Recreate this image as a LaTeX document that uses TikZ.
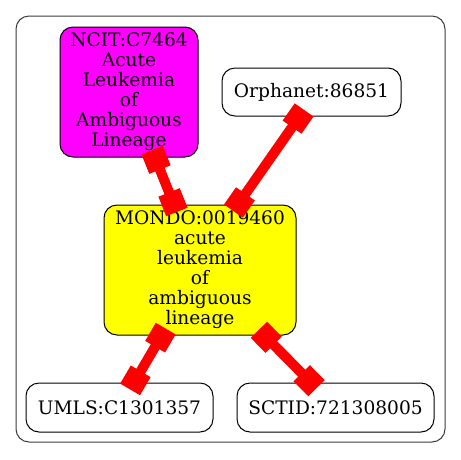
\documentclass[tikz,border=0pt]{standalone}
\usepackage{fontspec}
\setmainfont{DejaVu Serif}
\usetikzlibrary{arrows.meta,calc}
\definecolor{gvmagenta}{RGB}{255,0,255}
\definecolor{gvyellow}{RGB}{255,255,0}
\definecolor{gvred}{RGB}{255,0,0}
\definecolor{gvgray}{RGB}{60,60,60}
\begin{document}
\begin{tikzpicture}[x=1pt,y=-1pt,
  nd/.style={draw=black,line width=1pt,rounded corners=13pt,align=center,inner sep=0pt,
    font=\fontsize{18.6}{20}\selectfont},
  link/.style={draw=gvred,line width=10pt,
    {Square[length=21pt,width=23pt]}-{Square[length=21pt,width=23pt]},
    shorten <=-8pt, shorten >=-8pt}]
\useasboundingbox (0,0) rectangle (461,459);
\draw[line width=1pt,draw=gvgray,rounded corners=13pt] (16,16) rectangle (445,442);
\node[nd,fill=gvmagenta,minimum width=138pt,minimum height=130pt] (ncit) at (129,92)
  {NCIT:C7464\\Acute\\Leukemia\\of\\Ambiguous\\Lineage};
\node[nd,minimum width=179pt,minimum height=48pt] (orpha) at (311.5,92) {Orphanet:86851};
\node[nd,fill=gvyellow,minimum width=192pt,minimum height=130pt] (mondo) at (200,270)
  {MONDO:0019460\\acute\\leukemia\\of\\ambiguous\\lineage};
\node[nd,minimum width=187pt,minimum height=49pt] (umls) at (119.5,407.5) {UMLS:C1301357};
\node[nd,minimum width=197pt,minimum height=49pt] (sctid) at (335.5,407.5) {SCTID:721308005};
\draw[link] (ncit) -- (mondo);
\draw[link] ($(orpha.south)+(-12,0)$) -- ($(mondo.north)+(38,0)$);
\draw[link] (mondo) -- (umls);
\draw[link] (mondo) -- (sctid);
\end{tikzpicture}
\end{document}
